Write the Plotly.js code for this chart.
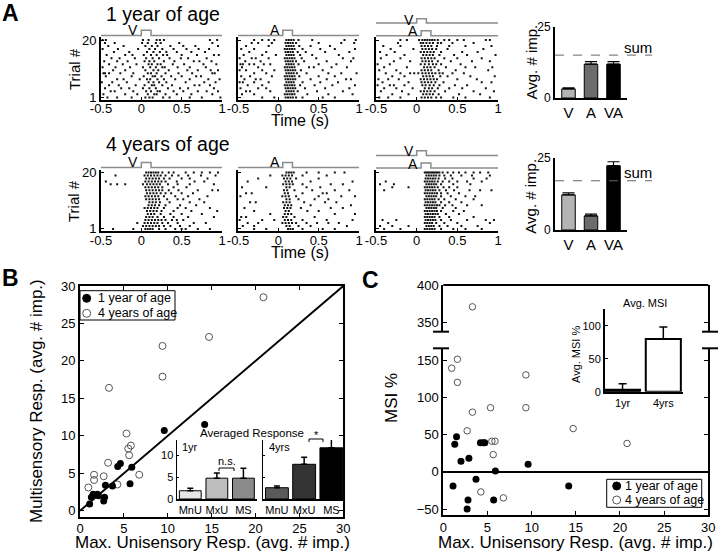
<!DOCTYPE html>
<html><head><meta charset="utf-8">
<script src="https://cdn.plot.ly/plotly-3.0.1.min.js"></script>
<style>html,body{margin:0;padding:0;background:#fff}#chart{width:720px;height:556px}</style>
</head><body><div id="chart"></div>
<script>
// ================= DATA =================
const rasterTicks = [-0.5, 0, 0.5, 1];
const rasterTickText = ['-0.5', '0', '0.5', '1'];
const trialTicks = [1, 20];
const trialTickText = ['1', '20'];
const vStim = [0, 0.12];
const aStim = [0.055, 0.175];

// spike times (s), index 0 = trial 1 (bottom) ... index 19 = trial 20 (top)
const spikes1yrV = [
 [-0.42,-0.3,-0.12,0.05,0.1,0.14,0.27,0.35,0.6,0.75,0.98],
 [-0.47,-0.2,-0.05,0.08,0.16,0.19,0.3,0.44,0.62,0.88],
 [-0.38,-0.33,-0.1,0.06,0.12,0.2,0.23,0.4,0.52,0.7,0.81,0.95],
 [-0.45,-0.25,-0.15,0.02,0.1,0.18,0.33,0.48,0.58,0.9],
 [-0.4,-0.28,-0.07,0.04,0.13,0.16,0.26,0.38,0.66,0.72,0.85],
 [-0.49,-0.36,-0.18,0.09,0.15,0.22,0.31,0.55,0.78,0.92],
 [-0.3,-0.22,-0.02,0.07,0.11,0.2,0.28,0.42,0.6,0.83,0.97],
 [-0.44,-0.12,0.03,0.14,0.17,0.25,0.37,0.5,0.68,0.74],
 [-0.47,-0.45,-0.4,-0.26,-0.1,0.08,0.12,0.19,0.3,0.46,0.63,0.88,0.91],
 [-0.35,-0.2,0.05,0.15,0.21,0.34,0.57,0.7,0.86,0.95],
 [-0.48,-0.32,-0.14,0.02,0.11,0.18,0.26,0.29,0.45,0.6,0.8],
 [-0.4,-0.23,-0.06,0.09,0.13,0.2,0.24,0.39,0.53,0.77,0.93],
 [-0.46,-0.3,-0.17,0.04,0.1,0.16,0.28,0.41,0.65,0.72,0.87],
 [-0.37,-0.27,-0.08,0.06,0.14,0.22,0.35,0.49,0.58,0.81],
 [-0.43,-0.2,-0.11,0.03,0.12,0.19,0.27,0.32,0.5,0.69,0.9,0.96],
 [-0.34,-0.15,0.07,0.15,0.23,0.31,0.44,0.62,0.79],
 [-0.48,-0.29,-0.04,0.1,0.17,0.26,0.4,0.56,0.71,0.84],
 [-0.41,-0.22,0.05,0.13,0.2,0.36,0.52,0.67,0.95],
 [-0.45,-0.33,0.01,0.08,0.18,0.24,0.47,0.88],
 [-0.48,-0.44,0.02,0.09,0.19,0.23,0.28,0.85,0.94]
];
const spikes1yrA = [
 [-0.2,-0.05,0.09,0.12,0.15,0.18,0.22,0.3,0.55,0.7],
 [-0.45,-0.3,0.08,0.11,0.14,0.17,0.2,0.36,0.62,0.92],
 [-0.4,-0.35,-0.1,0.1,0.13,0.16,0.19,0.24,0.48,0.8],
 [-0.47,-0.25,-0.15,0.09,0.12,0.15,0.18,0.21,0.33,0.58,0.88],
 [-0.38,-0.2,0.08,0.11,0.14,0.17,0.2,0.27,0.45,0.67,0.95],
 [-0.48,-0.44,-0.3,-0.12,0.1,0.13,0.16,0.19,0.3,0.52,0.74],
 [-0.42,-0.28,-0.22,0.09,0.12,0.15,0.18,0.21,0.4,0.6,0.84,0.9],
 [-0.46,-0.35,-0.08,0.08,0.11,0.14,0.17,0.2,0.26,0.5,0.7],
 [-0.3,-0.15,0.1,0.13,0.16,0.19,0.23,0.35,0.62,0.78,0.97],
 [-0.48,-0.4,-0.2,-0.05,0.09,0.12,0.15,0.18,0.21,0.28,0.55],
 [-0.45,-0.25,0.08,0.11,0.14,0.17,0.2,0.38,0.44,0.66,0.85],
 [-0.47,-0.44,-0.36,-0.3,-0.18,-0.1,0.1,0.13,0.16,0.19,0.25,0.5,0.72],
 [-0.41,-0.22,0.09,0.12,0.15,0.18,0.22,0.32,0.6,0.9],
 [-0.48,-0.33,-0.28,-0.12,0.08,0.11,0.14,0.17,0.2,0.29,0.47,0.8,0.93],
 [-0.43,-0.2,-0.03,0.1,0.13,0.16,0.19,0.27,0.42,0.75],
 [-0.36,-0.15,0.09,0.12,0.15,0.18,0.24,0.34,0.58,0.88],
 [-0.46,-0.3,0.08,0.11,0.14,0.17,0.2,0.3,0.52,0.7,0.95],
 [-0.4,-0.12,0.1,0.13,0.16,0.19,0.26,0.4,0.64],
 [-0.33,-0.25,-0.08,0.09,0.12,0.15,0.18,0.22,0.5,0.78,0.94],
 [-0.3,-0.2,-0.12,-0.05,0.1,0.13,0.16,0.19,0.25,0.42,0.82,0.96]
];
const spikes1yrVA = [
 [-0.46,-0.35,-0.2,0.06,0.1,0.14,0.18,0.24,0.3,0.45,0.6,0.9],
 [-0.3,-0.1,0.08,0.12,0.16,0.2,0.27,0.52,0.78],
 [-0.44,-0.18,0.05,0.09,0.13,0.17,0.22,0.35,0.7,0.95],
 [-0.4,-0.25,-0.05,0.1,0.15,0.19,0.26,0.4,0.56,0.85],
 [-0.48,-0.33,-0.28,-0.15,0.07,0.11,0.16,0.21,0.28,0.47,0.62],
 [-0.42,-0.1,0.06,0.1,0.14,0.18,0.23,0.33,0.8,0.92],
 [-0.47,-0.35,-0.22,0.05,0.09,0.13,0.17,0.21,0.25,0.5,0.74],
 [-0.3,-0.15,0.08,0.12,0.16,0.2,0.29,0.38,0.66,0.96],
 [-0.38,-0.2,-0.08,-0.03,0.02,0.07,0.11,0.15,0.19,0.23,0.28,0.32,0.44,0.58],
 [-0.46,-0.25,0.06,0.1,0.14,0.18,0.27,0.48,0.88],
 [-0.4,-0.12,0.09,0.13,0.17,0.22,0.36,0.6,0.72,0.93],
 [-0.48,-0.33,0.05,0.1,0.15,0.2,0.24,0.3,0.54],
 [-0.28,-0.08,0.07,0.11,0.15,0.19,0.26,0.42,0.68,0.9],
 [-0.44,-0.2,0.06,0.1,0.14,0.18,0.22,0.34,0.5,0.8],
 [-0.37,-0.15,0.08,0.12,0.16,0.2,0.28,0.46,0.62,0.97],
 [-0.45,-0.27,0.05,0.09,0.13,0.17,0.21,0.3,0.56,0.75],
 [-0.32,-0.04,0.07,0.11,0.15,0.19,0.24,0.38,0.82],
 [-0.41,-0.2,0.06,0.1,0.14,0.18,0.25,0.4,0.6,0.92],
 [-0.23,0.05,0.08,0.12,0.16,0.2,0.26,0.3,0.44,0.7],
 [-0.2,-0.12,0.03,0.07,0.1,0.13,0.16,0.19,0.22,0.26,0.34,0.4,0.5,0.58,0.85,0.9]
];
const spikes4yrV = [
 [-0.35,-0.1,0.05,0.08,0.11,0.14,0.22,0.3,0.42,0.5,0.55,0.7,0.85],
 [0.02,0.06,0.1,0.14,0.18,0.22,0.28,0.36,0.48,0.6],
 [-0.05,0.04,0.08,0.12,0.16,0.2,0.26,0.33,0.45,0.65,0.8],
 [0.05,0.09,0.13,0.17,0.21,0.25,0.3,0.38,0.44,0.52],
 [0.06,0.1,0.14,0.2,0.28,0.4,0.58,0.9],
 [0.08,0.12,0.16,0.24,0.36,0.5,0.75],
 [0.07,0.11,0.15,0.19,0.25,0.4,0.62,0.94],
 [0.04,0.08,0.12,0.16,0.2,0.28,0.45,0.55,0.85],
 [0.09,0.13,0.17,0.22,0.3,0.48,0.68],
 [0.1,0.14,0.18,0.23,0.35,0.6,0.78],
 [0.06,0.1,0.14,0.18,0.22,0.32,0.45,0.52,0.72],
 [0.05,0.09,0.13,0.17,0.21,0.28,0.42,0.58,0.82],
 [0.07,0.11,0.15,0.19,0.24,0.3,0.37,0.5,0.64],
 [0.06,0.1,0.14,0.18,0.22,0.26,0.34,0.46,0.7,0.88,0.95],
 [0.05,0.09,0.13,0.17,0.21,0.26,0.4,0.56],
 [-0.38,-0.3,-0.2,0.02,0.07,0.11,0.15,0.19,0.23,0.33,0.45,0.6,0.9],
 [-0.44,0.05,0.09,0.13,0.17,0.21,0.25,0.3,0.44,0.66,0.78],
 [0.06,0.1,0.14,0.18,0.22,0.28,0.35,0.5,0.6,0.82],
 [-0.32,0.04,0.08,0.12,0.16,0.2,0.24,0.3,0.38,0.46,0.58,0.74,0.92],
 [0.06,0.09,0.12,0.15,0.18,0.21,0.26,0.34,0.4,0.55,0.65,0.75,0.85,0.95]
];
const spikes4yrA = [
 [-0.3,-0.15,0.12,0.15,0.18,0.3,0.55,0.7],
 [-0.44,-0.3,0.1,0.14,0.25,0.4,0.85],
 [-0.38,-0.25,0.05,0.09,0.13,0.17,0.22,0.35,0.48,0.62,0.75],
 [-0.48,-0.2,-0.05,0.08,0.12,0.16,0.3,0.6,0.92],
 [-0.46,-0.4,0.06,0.1,0.2,0.45],
 [-0.1,0.08,0.12,0.16,0.7,0.95],
 [-0.3,0.09,0.13,0.36,0.5],
 [-0.42,0.07,0.11,0.15,0.28,0.65,0.8],
 [0.08,0.12,0.16,0.4,0.9],
 [-0.35,-0.28,0.06,0.1,0.14,0.32,0.58,0.72],
 [0.1,0.14,0.25,0.45,0.62],
 [-0.47,0.05,0.09,0.13,0.22,0.5,0.78,0.95],
 [-0.4,-0.33,0.08,0.12,0.3,0.55,0.6],
 [0.07,0.11,0.2,0.42,0.7,0.88],
 [-0.45,-0.15,0.1,0.14,0.35,0.52],
 [0.06,0.1,0.14,0.18,0.3,0.65,0.8],
 [-0.38,0.09,0.13,0.17,0.4,0.92],
 [-0.25,0.07,0.11,0.15,0.22,0.5],
 [-0.1,0.05,0.09,0.13,0.17,0.3,0.6],
 [0.1,0.13,0.16,0.19,0.35,0.5,0.7,0.82]
];
const spikes4yrVA = [
 [-0.4,-0.2,0.1,0.13,0.16,0.19,0.22,0.3,0.45,0.6,0.8],
 [-0.45,-0.3,-0.1,0.12,0.15,0.18,0.21,0.28,0.38,0.55,0.75],
 [-0.35,0.1,0.13,0.16,0.19,0.24,0.34,0.5,0.9],
 [-0.42,-0.25,0.11,0.14,0.17,0.2,0.23,0.3,0.42,0.62,0.85,0.95],
 [0.1,0.13,0.16,0.19,0.22,0.28,0.4,0.7],
 [0.11,0.14,0.17,0.2,0.23,0.26,0.36,0.52],
 [0.1,0.13,0.16,0.19,0.22,0.25,0.3,0.45,0.58],
 [0.12,0.15,0.18,0.21,0.24,0.32,0.48],
 [0.1,0.13,0.16,0.19,0.22,0.25,0.28,0.35,0.44,0.62,0.8],
 [0.11,0.14,0.17,0.2,0.23,0.3,0.4,0.55],
 [0.1,0.13,0.16,0.19,0.22,0.27,0.34,0.48,0.7],
 [0.12,0.15,0.18,0.21,0.24,0.3,0.42,0.6,0.72],
 [0.1,0.13,0.16,0.19,0.22,0.25,0.3,0.38,0.52],
 [-0.4,0.11,0.14,0.17,0.2,0.23,0.28,0.36,0.46,0.65,0.78,0.92],
 [-0.3,-0.1,0.1,0.13,0.16,0.19,0.22,0.26,0.33,0.4,0.5],
 [-0.45,-0.28,0.12,0.15,0.18,0.21,0.24,0.3,0.45,0.66],
 [-0.38,0.1,0.13,0.16,0.19,0.22,0.26,0.32,0.4,0.5,0.62,0.8],
 [0.11,0.14,0.17,0.2,0.23,0.27,0.35,0.44,0.7,0.86],
 [0.12,0.15,0.18,0.21,0.24,0.28,0.34,0.42,0.55,0.68,0.9],
 [0.1,0.12,0.14,0.16,0.18,0.2,0.22,0.24,0.26,0.28,0.32,0.38,0.45,0.52,0.6,0.7,0.78,0.88]
];

const condCats = ['V', 'A', 'VA'];
const condColors = ['#b4b4b4', '#6c6c6c', '#000000'];
const imp1yr = [3.2, 11.9, 11.9];
const imp1yrErr = [0.4, 0.9, 0.9];
const imp4yr = [12.2, 4.9, 22.3];
const imp4yrErr = [0.7, 0.6, 1.4];

const unityLine = [0, 30];
const maxUni1yr = [1.1, 1.3, 1.5, 2.0, 2.1, 2.7, 2.8, 2.9, 3.7, 4.3, 4.6, 5.7, 5.9, 9.6, 14.2];
const multi1yr  = [0.9, 1.8, 2.2, 2.2, 2.0, 1.3, 1.8, 3.4, 3.3, 5.9, 6.3, 3.6, 5.8, 10.7, 11.5];
const maxUni4yr = [0.95, 1.6, 1.6, 2.7, 3.2, 3.3, 4.25, 5.3, 5.5, 5.6, 5.8, 6.75, 9.4, 9.4, 14.7, 20.9];
const multi4yr  = [3.1, 4.8, 4.1, 4.6, 6.4, 16.4, 3.5, 10.3, 8.3, 7.4, 8.7, 4.8, 22.0, 17.9, 23.2, 28.5];

const avgCats = ['MnU', 'MxU', 'MS'];
const avgResp1yr = [1.9, 4.8, 4.8];
const avgResp1yrErr = [0.6, 1.2, 2.3];
const avgResp1yrColors = ['#e6e6e6', '#bdbdbd', '#8a8a8a'];
const avgResp4yr = [2.6, 8.0, 11.8];
const avgResp4yrErr = [0.4, 1.6, 2.0];
const avgResp4yrColors = ['#5a5a5a', '#333333', '#000000'];

const msiX1yr = [1.1, 1.3, 1.5, 2.0, 2.7, 2.8, 2.9, 3.7, 4.2, 4.5, 4.7, 5.7, 5.9, 9.6, 14.2];
const msi1yr  = [-19, 37, 47, 14, -50, -38, 18, -10, 39, 39, 39, -38, 1, 10, -19];
const msiX4yr = [0.95, 1.6, 1.6, 2.7, 3.3, 3.3, 4.25, 5.35, 5.5, 5.85, 5.65, 6.8, 9.35, 9.35, 14.7, 20.8];
const msi4yr  = [139, 151, 120, 55, 80, 371, -27, 86, 41, 41, 23, -35, 130, 86, 58, 38];

const ageCats = ['1yr', '4yrs'];
const avgMSI = [3, 80];
const avgMSIErr = [9, 18];

// ================= LAYOUT HELPERS =================
const W = 720, H = 556;
const F = 'Liberation Sans, Arial, Helvetica, sans-serif';
const xd = (a, b) => [a / W, b / W];
const yd = (t, b) => [1 - b / H, 1 - t / H];
const PX = v => v / W, PY = v => 1 - v / H;

function ax(o) {
  return Object.assign({
    showgrid: false, zeroline: false, showline: true, linecolor: '#000', linewidth: 2,
    ticks: 'inside', ticklen: 3, tickwidth: 1, tickcolor: '#000',
    tickfont: { family: F, size: 13, color: '#000' }, fixedrange: true
  }, o);
}
function ann(text, x, y, size, o) {
  return Object.assign({
    text, x: PX(x), y: PY(y), xref: 'paper', yref: 'paper', showarrow: false,
    xanchor: 'center', yanchor: 'middle', font: { family: F, size, color: '#000' }
  }, o || {});
}
function rasterTrace(sp, xa, ya) {
  const x = [], y = [];
  sp.forEach((tr, i) => tr.forEach(t => { x.push(t); y.push(i + 1); }));
  return { type: 'scatter', mode: 'markers', x, y, xaxis: xa, yaxis: ya, hoverinfo: 'skip', showlegend: false,
    marker: { symbol: 'square', size: 2, color: '#111', line: { width: 0 } } };
}
function stimShape(stim, xa, yBase, yTop) {
  const yb = PY(yBase), yt = PY(yTop);
  return { type: 'path', xref: xa, yref: 'paper', layer: 'above',
    path: `M -0.5 ${yb} L ${stim[0]} ${yb} L ${stim[0]} ${yt} L ${stim[1]} ${yt} L ${stim[1]} ${yb} L 1 ${yb}`,
    line: { color: '#8c8c8c', width: 1.5 } };
}
function stimLabel(text, stim, xa, y) {
  return { text, x: stim[0], y: PY(y), xref: xa, yref: 'paper', showarrow: false, xanchor: 'right', yanchor: 'middle',
    xshift: -1, font: { family: F, size: 14, color: '#000' } };
}
function pxPath(pts) {
  return pts.map((p, i) => (i ? 'L ' : 'M ') + PX(p[0]) + ' ' + PY(p[1])).join(' ');
}
function pline(x0, y0, x1, y1, w) {
  return { type: 'line', xref: 'paper', yref: 'paper', x0: PX(x0), y0: PY(y0), x1: PX(x1), y1: PY(y1), line: { color: '#000', width: w || 2 } };
}
function legendDot(x, y, filled) {
  return { type: 'circle', xref: 'paper', yref: 'paper', xsizemode: 'pixel', ysizemode: 'pixel',
    xanchor: PX(x), yanchor: PY(y), x0: -4, x1: 4, y0: -4, y1: 4,
    fillcolor: filled ? '#000' : '#fff', line: { color: filled ? '#000' : '#555', width: 1 } };
}
const zeros = n => new Array(n).fill(0);

// ================= TRACES =================
const traces = [
  rasterTrace(spikes1yrV, 'x', 'y'),
  rasterTrace(spikes1yrA, 'x2', 'y2'),
  rasterTrace(spikes1yrVA, 'x3', 'y3'),
  rasterTrace(spikes4yrV, 'x4', 'y4'),
  rasterTrace(spikes4yrA, 'x5', 'y5'),
  rasterTrace(spikes4yrVA, 'x6', 'y6'),
  { type: 'bar', x: condCats, y: imp1yr, xaxis: 'x7', yaxis: 'y7', width: 0.6, showlegend: false, hoverinfo: 'skip',
    marker: { color: condColors, line: { color: '#000', width: 1 } },
    error_y: { type: 'data', array: imp1yrErr, arrayminus: zeros(3), symmetric: false, color: '#000', thickness: 1.2, width: 6 } },
  { type: 'bar', x: condCats, y: imp4yr, xaxis: 'x8', yaxis: 'y8', width: 0.6, showlegend: false, hoverinfo: 'skip',
    marker: { color: condColors, line: { color: '#000', width: 1 } },
    error_y: { type: 'data', array: imp4yrErr, arrayminus: zeros(3), symmetric: false, color: '#000', thickness: 1.2, width: 6 } },
  { type: 'bar', x: avgCats, y: avgResp1yr, xaxis: 'x9', yaxis: 'y9', width: 0.82, showlegend: false, hoverinfo: 'skip',
    marker: { color: avgResp1yrColors, line: { color: '#000', width: 1 } },
    error_y: { type: 'data', array: avgResp1yrErr, arrayminus: zeros(3), symmetric: false, color: '#000', thickness: 1.5, width: 3 } },
  { type: 'bar', x: avgCats, y: avgResp4yr, xaxis: 'x10', yaxis: 'y10', width: 0.84, showlegend: false, hoverinfo: 'skip',
    marker: { color: avgResp4yrColors, line: { color: '#000', width: 1 } },
    error_y: { type: 'data', array: avgResp4yrErr, arrayminus: zeros(3), symmetric: false, color: '#000', thickness: 1.5, width: 3 } },
  { type: 'scatter', mode: 'lines', x: unityLine, y: unityLine, xaxis: 'x11', yaxis: 'y11', showlegend: false, hoverinfo: 'skip',
    line: { color: '#000', width: 2 } },
  { type: 'scatter', mode: 'markers', x: maxUni4yr, y: multi4yr, xaxis: 'x11', yaxis: 'y11', showlegend: false, hoverinfo: 'skip',
    marker: { symbol: 'circle-open', size: 7, color: '#555', line: { width: 1 } } },
  { type: 'scatter', mode: 'markers', x: maxUni1yr, y: multi1yr, xaxis: 'x11', yaxis: 'y11', showlegend: false, hoverinfo: 'skip',
    marker: { symbol: 'circle', size: 7, color: '#000' } },
  { type: 'scatter', mode: 'markers', x: msiX4yr, y: msi4yr, xaxis: 'x12', yaxis: 'y12', showlegend: false, hoverinfo: 'skip',
    marker: { symbol: 'circle-open', size: 6.5, color: '#555', line: { width: 1 } } },
  { type: 'scatter', mode: 'markers', x: msiX4yr, y: msi4yr, xaxis: 'x12', yaxis: 'y13', showlegend: false, hoverinfo: 'skip',
    marker: { symbol: 'circle-open', size: 6.5, color: '#555', line: { width: 1 } } },
  { type: 'scatter', mode: 'markers', x: msiX1yr, y: msi1yr, xaxis: 'x12', yaxis: 'y12', showlegend: false, hoverinfo: 'skip',
    marker: { symbol: 'circle', size: 7, color: '#000' } },
  { type: 'bar', x: ageCats, y: avgMSI, xaxis: 'x15', yaxis: 'y15', width: 0.86, showlegend: false, hoverinfo: 'skip',
    marker: { color: ['#000', '#fff'], line: { color: '#000', width: 2 } },
    error_y: { type: 'data', array: avgMSIErr, arrayminus: zeros(2), symmetric: false, color: '#000', thickness: 1.5, width: 4 } }
];

// ================= LAYOUT =================
const rxA = { range: [-0.5, 1], tickvals: rasterTicks, ticktext: rasterTickText, ticklabelstandoff: -4 };
const ryA = { range: [0.3, 21], tickvals: trialTicks, ticktext: trialTickText };
const row1 = yd(37, 99.5), row2 = yd(169.5, 231);
const c1 = xd(101, 222), c2 = xd(238, 359), c3 = xd(376, 498);
const fiveTicks = [0, 5, 10, 15, 20, 25, 30];

const layout = {
  width: W, height: H, margin: { l: 0, r: 0, t: 0, b: 0 }, paper_bgcolor: '#fff', plot_bgcolor: 'rgba(0,0,0,0)',
  showlegend: false, font: { family: F, color: '#000' },
  xaxis:  ax(Object.assign({ domain: c1, anchor: 'y' }, rxA)),
  yaxis:  ax(Object.assign({ domain: row1, anchor: 'x' }, ryA)),
  xaxis2: ax(Object.assign({ domain: c2, anchor: 'y2' }, rxA)),
  yaxis2: ax(Object.assign({ domain: row1, anchor: 'x2', showticklabels: false }, ryA)),
  xaxis3: ax(Object.assign({ domain: c3, anchor: 'y3' }, rxA)),
  yaxis3: ax(Object.assign({ domain: row1, anchor: 'x3', showticklabels: false }, ryA)),
  xaxis4: ax(Object.assign({ domain: c1, anchor: 'y4' }, rxA)),
  yaxis4: ax(Object.assign({ domain: row2, anchor: 'x4' }, ryA)),
  xaxis5: ax(Object.assign({ domain: c2, anchor: 'y5' }, rxA)),
  yaxis5: ax(Object.assign({ domain: row2, anchor: 'x5', showticklabels: false }, ryA)),
  xaxis6: ax(Object.assign({ domain: c3, anchor: 'y6' }, rxA)),
  yaxis6: ax(Object.assign({ domain: row2, anchor: 'x6', showticklabels: false }, ryA)),
  xaxis7: ax({ domain: xd(555, 627), anchor: 'y7', type: 'category', range: [-0.6, 2.6], ticks: '', tickfont: { family: F, size: 15, color: '#000' } }),
  yaxis7: ax({ domain: yd(27, 98), anchor: 'x7', range: [0, 25], tickvals: [0, 25], tickfont: { family: F, size: 12, color: '#000' } }),
  xaxis8: ax({ domain: xd(555, 627), anchor: 'y8', type: 'category', range: [-0.6, 2.6], ticks: '', tickfont: { family: F, size: 15, color: '#000' } }),
  yaxis8: ax({ domain: yd(158, 230), anchor: 'x8', range: [0, 25], tickvals: [0, 25], tickfont: { family: F, size: 12, color: '#000' } }),
  xaxis9: ax({ domain: xd(177, 256.7), anchor: 'y9', type: 'category', range: [-0.5, 2.5], ticks: '', linewidth: 1.5, tickfont: { family: F, size: 11, color: '#000' } }),
  yaxis9: ax({ domain: yd(440, 499), anchor: 'x9', range: [0, 13.6], tickvals: [0, 5, 10], linewidth: 1.5, ticklen: 2, tickfont: { family: F, size: 11, color: '#000' } }),
  xaxis10: ax({ domain: xd(263.3, 345), anchor: 'y10', type: 'category', range: [-0.5, 2.5], ticks: '', linewidth: 1.5, tickfont: { family: F, size: 11, color: '#000' } }),
  yaxis10: ax({ domain: yd(440, 499), anchor: 'x10', range: [0, 13.6], tickvals: [0, 5, 10], linewidth: 1.5, ticklen: 2, showticklabels: false }),
  xaxis11: ax({ domain: xd(80, 343.3), anchor: 'y11', range: [0, 30], tickvals: fiveTicks, mirror: 'ticks', ticklen: 4, ticklabelstandoff: -1 }),
  yaxis11: ax({ domain: yd(286, 516.7), anchor: 'x11', range: [-0.8, 30], tickvals: fiveTicks, mirror: 'ticks', ticklen: 4 }),
  xaxis12: ax({ domain: xd(443.3, 708.3), anchor: 'y12', range: [0, 30], tickvals: fiveTicks, ticklen: 4, ticklabelstandoff: -1 }),
  yaxis12: ax({ domain: yd(348.3, 515), anchor: 'x12', range: [-58, 165.7], tickvals: [-50, 0, 50, 100, 150], mirror: 'ticks', ticklen: 4,
    zeroline: true, zerolinecolor: '#000', zerolinewidth: 2 }),
  yaxis13: ax({ domain: yd(285, 331.7), anchor: 'x12', range: [338, 400], tickvals: [350, 400], mirror: 'ticks', ticklen: 4 }),
  xaxis15: ax({ domain: xd(605, 683.3), anchor: 'y15', type: 'category', range: [-0.43, 1.49], ticks: '', tickfont: { family: F, size: 11, color: '#000' } }),
  yaxis15: ax({ domain: yd(309.3, 391.7), anchor: 'x15', range: [0, 125], tickvals: [0, 50, 100], tickfont: { family: F, size: 11, color: '#000' } }),
  shapes: [
    stimShape(vStim, 'x', 35.5, 30.3),
    stimShape(aStim, 'x2', 35.5, 30.3),
    stimShape(vStim, 'x3', 23, 18.7),
    stimShape(aStim, 'x3', 35.8, 30.8),
    stimShape(vStim, 'x4', 167.5, 162.5),
    stimShape(aStim, 'x5', 167.5, 162.5),
    stimShape(vStim, 'x6', 155.5, 150.8),
    stimShape(aStim, 'x6', 168, 163),
    { type: 'line', xref: 'paper', yref: 'y7', x0: PX(555), x1: PX(652), y0: imp1yr[0] + imp1yr[1], y1: imp1yr[0] + imp1yr[1], line: { color: '#666', width: 1, dash: 'dash' } },
    { type: 'line', xref: 'paper', yref: 'y8', x0: PX(555), x1: PX(652), y0: imp4yr[0] + imp4yr[1], y1: imp4yr[0] + imp4yr[1], line: { color: '#666', width: 1, dash: 'dash' } },
    // B inset significance brackets
    { type: 'path', xref: 'paper', yref: 'paper', path: pxPath([[219, 471], [219, 468], [234, 468], [234, 471]]), line: { color: '#000', width: 1 } },
    { type: 'path', xref: 'paper', yref: 'paper', path: pxPath([[309, 442], [309, 439], [323, 439], [323, 442]]), line: { color: '#000', width: 1 } },
    // C frame top & axis break marks
    pline(443.3, 285, 708.3, 285, 2),
    pline(433, 331.7, 449, 331.7, 2), pline(433, 348.3, 449, 348.3, 2),
    pline(702, 331.7, 718, 331.7, 2), pline(702, 348.3, 718, 348.3, 2),
    // legends
    { type: 'rect', xref: 'paper', yref: 'paper', x0: PX(80), x1: PX(175), y0: PY(320), y1: PY(290.7), line: { color: '#000', width: 1 }, fillcolor: '#fff' },
    legendDot(86.7, 298.3, true), legendDot(86.7, 313.3, false),
    { type: 'rect', xref: 'paper', yref: 'paper', x0: PX(606.7), x1: PX(701.7), y0: PY(507.3), y1: PY(479.3), line: { color: '#000', width: 1 }, fillcolor: '#fff' },
    legendDot(616.7, 486, true), legendDot(616.7, 500, false)
  ],
  annotations: [
    ann('<b>A</b>', 10, 13, 23), ann('<b>B</b>', 10, 278, 23), ann('<b>C</b>', 371, 280, 23),
    ann('1 year of age', 163, 14, 19.5), ann('4 years of age', 167.5, 143.5, 19.5),
    ann('Trial #', 74, 69, 15, { textangle: -90 }), ann('Trial #', 74, 201, 15, { textangle: -90 }),
    ann('Time (s)', 300, 121, 16), ann('Time (s)', 300, 252, 16),
    ann('Avg. # imp.', 531, 62.5, 15, { textangle: -90 }), ann('Avg. # imp.', 531, 196.7, 15, { textangle: -90 }),
    { text: 'sum', x: PX(638), xref: 'paper', y: imp1yr[0] + imp1yr[1], yref: 'y7', yshift: 8, showarrow: false,
      xanchor: 'center', yanchor: 'middle', font: { family: F, size: 15, color: '#000' } },
    { text: 'sum', x: PX(638), xref: 'paper', y: imp4yr[0] + imp4yr[1], yref: 'y8', yshift: 8, showarrow: false,
      xanchor: 'center', yanchor: 'middle', font: { family: F, size: 15, color: '#000' } },
    stimLabel('V', vStim, 'x', 30.5), stimLabel('A', aStim, 'x2', 30.5),
    stimLabel('V', vStim, 'x3', 19.5), stimLabel('A', aStim, 'x3', 31.5),
    stimLabel('V', vStim, 'x4', 162), stimLabel('A', aStim, 'x5', 162),
    stimLabel('V', vStim, 'x6', 151), stimLabel('A', aStim, 'x6', 163.5),
    ann('Multisensory Resp. (avg. # imp.)', 36, 401, 17, { textangle: -90 }),
    ann('Max. Unisensory Resp. (avg. # imp.)', 212, 542, 17),
    ann('Max. Unisensory Resp. (avg. # imp.)', 575, 542, 17),
    ann('MSI %', 391, 398, 17, { textangle: -90 }),
    ann('Averaged Response', 251.7, 433.3, 11.5),
    ann('1yr', 180, 447.3, 11, { xanchor: 'left' }), ann('4yrs', 267, 447.3, 11, { xanchor: 'left' }),
    ann('n.s.', 226.5, 461, 11), ann('*', 316, 435, 11),
    ann('Avg. MSI', 645, 303, 11), ann('Avg. MSI %', 576, 355, 11, { textangle: -90 }),
    ann('1 year of age', 96, 298.3, 12.5, { xanchor: 'left' }), ann('4 years of age', 96, 313.3, 12.5, { xanchor: 'left' }),
    ann('1 year of age', 623.3, 486, 12.5, { xanchor: 'left' }), ann('4 years of age', 623.3, 500, 12.5, { xanchor: 'left' })
  ]
};

Plotly.newPlot('chart', traces, layout, { displayModeBar: false, staticPlot: true });
</script>
</body></html>
